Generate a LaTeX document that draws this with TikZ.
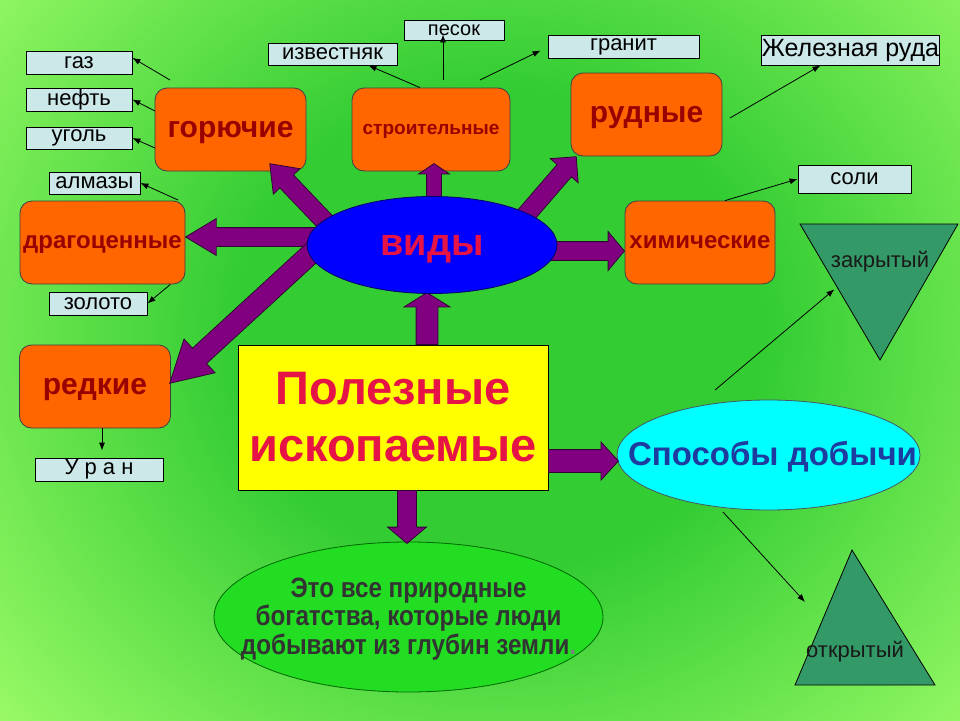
\documentclass[tikz,border=0pt]{standalone}
\usepackage{fontspec}
\setmainfont{Liberation Sans}
\newfontfamily\narrowfont[FakeStretch=0.865]{Liberation Sans}
\usepackage{tikz}
\usetikzlibrary{calc,arrows.meta,backgrounds,shapes.arrows,shapes.geometric}
\definecolor{glight}{RGB}{153,250,102}
\definecolor{gdark}{RGB}{51,204,51}
\definecolor{kindfill}{RGB}{255,102,0}
\definecolor{kindtext}{RGB}{153,0,0}
\definecolor{itemfill}{RGB}{204,232,232}
\definecolor{arrowfill}{RGB}{128,0,128}
\definecolor{arrowline}{RGB}{51,0,51}
\definecolor{crimson}{RGB}{230,20,70}
\definecolor{waysblue}{RGB}{30,60,160}
\definecolor{waysfill}{RGB}{0,255,255}
\definecolor{mainfill}{RGB}{255,255,0}
\definecolor{kindsfill}{RGB}{0,0,255}
\definecolor{mined}{RGB}{51,153,102}
\definecolor{ecofill}{RGB}{34,221,34}
\pgfdeclarelayer{foreground}
\pgfsetlayers{background,main,foreground}
\pgfdeclareradialshading{glow}{\pgfpoint{0bp}{0bp}}{color(0bp)=(gdark); color(10bp)=(gdark); color(25bp)=(glight); color(50bp)=(glight)}
\tikzset{
  kind/.style     = {rectangle, rounded corners=12pt, draw=black!75, line width=0.8pt,
                     fill=kindfill, text=kindtext, font=\bfseries\fontsize{30}{32}\selectfont,
                     minimum width=151pt, minimum height=83pt, inner sep=0pt, text depth=0pt},
  item/.style     = {rectangle, draw=black, line width=0.8pt, fill=itemfill, inner sep=0pt,
                     minimum height=23pt, font=\fontsize{22}{24}\selectfont},
  leader/.style   = {-{Latex[length=8pt,width=6pt]}, line width=0.8pt},
  bigarrow/.style = {single arrow, draw=arrowline, line width=0.8pt, fill=arrowfill,
                     inner xsep=0pt, inner ysep=9pt, minimum width=0pt,
                     single arrow head extend=9pt, single arrow tip angle=90,
                     single arrow head indent=0pt},
  blob/.style     = {ellipse, line width=0.8pt, inner sep=0pt},
  mine/.style     = {draw=black, line width=0.8pt, fill=mined},
  minetext/.style = {font=\fontsize{22}{24}\selectfont, text=black!90},
}
\newcommand{\blockarrow}[3][]{%
  \path let \p1=($(#3)-(#2)$), \n1={atan2(\y1,\x1)}, \n2={veclen(\x1,\y1)} in
    node[bigarrow, #1, minimum height=\n2, rotate=\n1, anchor=tail] at (#2) {};}

\begin{document}
\begin{tikzpicture}[x=1pt, y=-1pt]
  \useasboundingbox (0,0) rectangle (960,720);
  \begin{pgfonlayer}{background}
    \begin{scope}
      \clip (0,0) rectangle (960,720);
      \fill[glight] (0,0) rectangle (960,720);
      \shade[shading=glow] (500,330) ellipse [x radius=660, y radius=600];
    \end{scope}
  \end{pgfonlayer}

  % kinds
  \node[kind] (gor) at (230.5,129.5) {горючие};
  \node[kind, minimum width=158pt, font=\bfseries\fontsize{19}{21}\selectfont] (str) at (431,129.5) {строительные};
  \node[kind] (rud) at (646.5,114.5) {рудные};
  \node[kind, minimum width=165pt, font=\bfseries\fontsize{24}{26}\selectfont] (drag) at (102.5,242.5) {драгоценные};
  \node[kind, minimum width=150pt, font=\bfseries\fontsize{24}{26}\selectfont] (him) at (700,242.5) {химические};
  \node[kind] (red) at (95,386.5) {редкие};

  \node[rectangle, draw=black, line width=0.8pt, fill=mainfill, text=crimson, align=center,
        font=\bfseries\fontsize{47}{57}\selectfont, minimum width=310pt, minimum height=145pt,
        inner sep=0pt] (pol) at (393,417.5) {Полезные\\ископаемые};
  \node[blob, draw=black!70!cyan, fill=waysfill, minimum width=303pt, minimum height=110pt] (spo) at (768.5,455) {};
  \node[text=waysblue, font=\bfseries\fontsize{33}{35}\selectfont, text depth=0pt] (spotext) at ($(spo)+(4,-2)$) {Способы добычи};
  \node[blob, draw=black!60!green, fill=ecofill, minimum width=389pt, minimum height=150pt] (eco) at (408.5,617) {};
  \node[text=black!80, align=center, font=\narrowfont\bfseries\fontsize{28}{28.5}\selectfont] (ecotext) at ($(eco)+(0,2)$)
        {Это все природные\\богатства, которые люди\\добывают из глубин земли{\color{black!50}.}};

  % examples
  \node[item, minimum width=106pt] (gaz) at (79,62.5) {газ};
  \node[item, minimum width=106pt] (neft) at (79,99.5) {нефть};
  \node[item, minimum width=106pt, minimum height=22pt] (ugol) at (79,138) {уголь};
  \node[item, minimum width=91pt, minimum height=22pt] (almaz) at (94.5,183) {алмазы};
  \node[item, minimum width=98pt] (zoloto) at (98,303.5) {золото};
  \node[item, minimum width=128pt] (uran) at (99,469.5) {У р а н};
  \node[item, minimum width=129pt, minimum height=22pt] (izv) at (332.5,54) {известняк};
  \node[item, minimum width=100pt, minimum height=20pt, font=\fontsize{20}{22}\selectfont] (pesok) at (454,30) {песок};
  \node[item, minimum width=151pt] (granit) at (623.5,46.5) {гранит};
  \node[item, minimum width=167pt, minimum height=30pt, font=\fontsize{25}{27}\selectfont] (zhel) at (850.5,50) {Железная руда};
  \node[item, minimum width=113pt, minimum height=28pt] (soli) at (854.5,179) {соли};

  % ways
  \coordinate (zak1) at (800,224);
  \coordinate (zak2) at (958,224);
  \coordinate (zak3) at (880,360);
  \draw[mine] (zak1) -- (zak2) -- (zak3) -- cycle;
  \node[minetext] (zak) at (880,262) {закрытый};
  \coordinate (otk1) at (852,550);
  \coordinate (otk2) at (935,685);
  \coordinate (otk3) at (795,685);
  \draw[mine] (otk1) -- (otk2) -- (otk3) -- cycle;
  \node[minetext] (otk) at (855,652) {открытый};

  \draw[leader] (170,80) -- (gaz.5);
  \draw[leader] (155,111) -- (neft.east);
  \draw[leader] (155,148) -- (ugol.east);
  \draw[leader] (178,200) -- (almaz.east);
  \draw[leader] ($(drag.south east)+(-15,0)$) -- (zoloto.east);
  \draw[leader] ($(red.south)+(7,0)$) -- ($(uran.north)+(3,-7)$);
  \draw[leader] ($(str.north)+(-11,0)$) -- ($(izv.south)+(36,0)$);
  \draw[leader] ($(str.north)+(12,-8)$) -- ($(pesok.south)+(-11,-6)$);
  \draw[leader] (480,80) -- ($(granit.west)+(-7,4)$);
  \draw[leader] (730,118) -- ($(zhel.south)+(-30,0)$);
  \draw[leader] ($(him.north)+(25,0)$) -- (soli.west);
  \draw[leader] (715,390) -- ($(zak1)!0.48!(zak3)+(-4,0)$);
  \draw[leader] (723,512) -- (805,602);

  % big arrows
  \coordinate (vid-gor) at (335,232);  \coordinate (gor-tip) at (270,164);
  \coordinate (vid-str) at (434,215);  \coordinate (str-tip) at (434,164);
  \coordinate (vid-rud) at (513,230);  \coordinate (rud-tip) at (576,157);
  \coordinate (vid-drag) at (330,237); \coordinate (drag-tip) at (186,237);
  \coordinate (vid-him) at (530,251);  \coordinate (him-tip) at (624,251);
  \coordinate (vid-red) at (330,236);  \coordinate (red-tip) at (170,383);
  \coordinate (pol-vid) at (427,345);  \coordinate (vid-tip) at (427,293);
  \coordinate (pol-spo) at (548,461);  \coordinate (spo-tip) at (618,461);
  \coordinate (pol-eco) at (407,490);  \coordinate (eco-tip) at (407,543);
  \blockarrow[single arrow tip angle=74]{vid-gor}{gor-tip}
  \blockarrow[inner ysep=7pt, single arrow head extend=8pt, single arrow tip angle=112]{vid-str}{str-tip}
  \blockarrow{vid-rud}{rud-tip}
  \blockarrow[single arrow tip angle=62]{vid-drag}{drag-tip}
  \blockarrow[single arrow head extend=10pt, single arrow tip angle=100]{vid-him}{him-tip}
  \blockarrow[inner ysep=10pt, single arrow head extend=12.5pt, single arrow tip angle=59]{vid-red}{red-tip}
  \blockarrow[inner ysep=10.5pt, single arrow head extend=12pt, single arrow tip angle=116]{pol-vid}{vid-tip}
  \blockarrow[inner ysep=11pt, single arrow head extend=7.5pt, single arrow tip angle=95]{pol-spo}{spo-tip}
  \blockarrow[single arrow head extend=10pt, single arrow tip angle=100]{pol-eco}{eco-tip}

  \begin{pgfonlayer}{foreground}
    \node[blob, draw=blue!40!black, fill=kindsfill, text=crimson, text depth=0pt,
          font=\bfseries\fontsize{38}{40}\selectfont, minimum width=250pt, minimum height=97pt] (vid) at (432,245) {виды};
  \end{pgfonlayer}
\end{tikzpicture}
\end{document}
